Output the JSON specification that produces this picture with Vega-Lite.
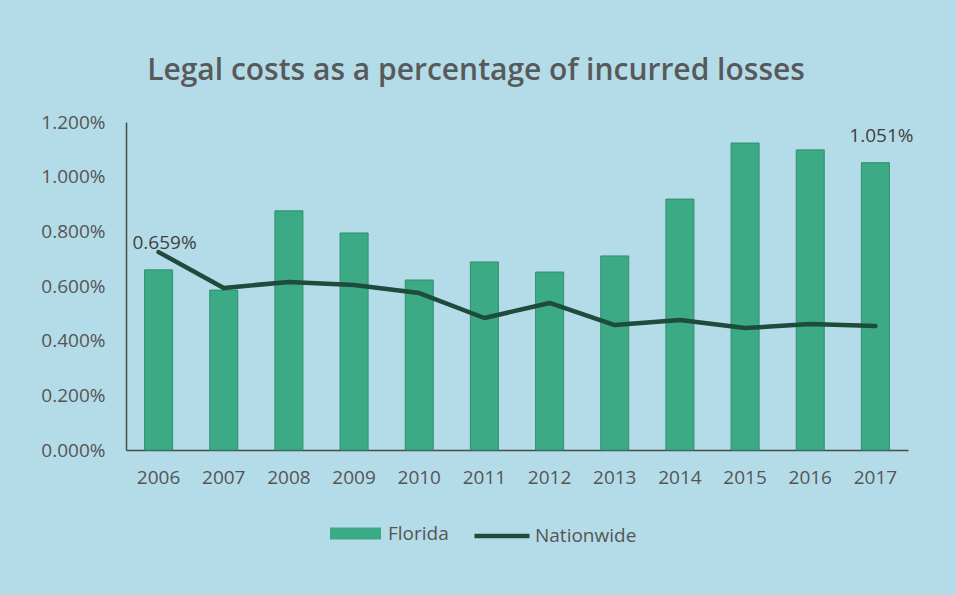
{
  "$schema": "https://vega.github.io/schema/vega-lite/v6.json",
  "width": 782,
  "height": 328,
  "autosize": {"type": "none"},
  "padding": {"left": 126, "top": 122, "right": 48, "bottom": 145},
  "background": "#b4dce8",
  "title": {
    "text": "Legal costs as a percentage of incurred losses",
    "anchor": "middle",
    "dx": -41,
    "offset": 27,
    "font": "Open Sans",
    "fontSize": 30,
    "fontWeight": 600,
    "color": "#58595b"
  },
  "data": {
    "values": [
      {"year": "2006", "florida": 0.00659, "nationwide": 0.00724},
      {"year": "2007", "florida": 0.00585, "nationwide": 0.00593},
      {"year": "2008", "florida": 0.00875, "nationwide": 0.00615},
      {"year": "2009", "florida": 0.00794, "nationwide": 0.00604},
      {"year": "2010", "florida": 0.00622, "nationwide": 0.00574},
      {"year": "2011", "florida": 0.00688, "nationwide": 0.00483},
      {"year": "2012", "florida": 0.00651, "nationwide": 0.00538},
      {"year": "2013", "florida": 0.0071, "nationwide": 0.00457},
      {"year": "2014", "florida": 0.00918, "nationwide": 0.00476},
      {"year": "2015", "florida": 0.01123, "nationwide": 0.00446},
      {"year": "2016", "florida": 0.01098, "nationwide": 0.00461},
      {"year": "2017", "florida": 0.01051, "nationwide": 0.00454}
    ]
  },
  "encoding": {
    "x": {
      "field": "year",
      "type": "ordinal",
      "title": null,
      "scale": {"paddingInner": 0.57, "paddingOuter": 0.285}
    }
  },
  "layer": [
    {
      "mark": {"type": "bar", "stroke": "#2f9070", "strokeWidth": 1},
      "encoding": {
        "y": {
          "field": "florida",
          "type": "quantitative",
          "title": null,
          "scale": {"domain": [0, 0.012], "nice": false},
          "axis": {"values": [0, 0.002, 0.004, 0.006, 0.008, 0.01, 0.012], "format": ".3%"}
        },
        "fill": {
          "datum": "Florida",
          "type": "nominal",
          "scale": {"domain": ["Florida"], "range": ["#3caa84"]},
          "legend": {
            "orient": "none",
            "legendX": 204,
            "legendY": 386,
            "symbolType": "M-1,-0.235H1V0.235H-1Z",
            "symbolSize": 2601,
            "symbolStrokeWidth": 0,
            "labelOffset": 7
          }
        }
      }
    },
    {
      "mark": {"type": "line", "strokeWidth": 4.5, "strokeCap": "round", "strokeJoin": "round"},
      "encoding": {
        "y": {"field": "nationwide", "type": "quantitative", "title": null},
        "stroke": {
          "datum": "Nationwide",
          "type": "nominal",
          "scale": {"domain": ["Nationwide"], "range": ["#1e4b3b"]},
          "legend": {
            "orient": "none",
            "legendX": 346,
            "legendY": 384,
            "symbolType": "stroke",
            "symbolSize": 3025,
            "symbolStrokeWidth": 4.5,
            "labelOffset": 3
          }
        }
      }
    },
    {
      "transform": [{"filter": {"field": "year", "oneOf": ["2006", "2017"]}}],
      "mark": {"type": "text", "dy": -27, "dx": 6, "font": "Open Sans", "fontSize": 19, "color": "#3f3f40"},
      "encoding": {
        "y": {"field": "florida", "type": "quantitative", "title": null},
        "text": {"field": "florida", "type": "quantitative", "format": ".3%"}
      }
    }
  ],
  "config": {
    "view": {"stroke": null},
    "axis": {
      "domainColor": "#4a4a4a",
      "domainWidth": 1.5,
      "ticks": false,
      "grid": false,
      "labelFont": "Open Sans",
      "labelColor": "#555555",
      "labelFontSize": 19
    },
    "axisX": {"labelAngle": 0, "labelPadding": 18, "labelFontSize": 19},
    "axisY": {"labelPadding": 21},
    "legend": {
      "title": null,
      "padding": 0,
      "labelFont": "Open Sans",
      "labelFontSize": 19,
      "labelColor": "#555555"
    }
  }
}
